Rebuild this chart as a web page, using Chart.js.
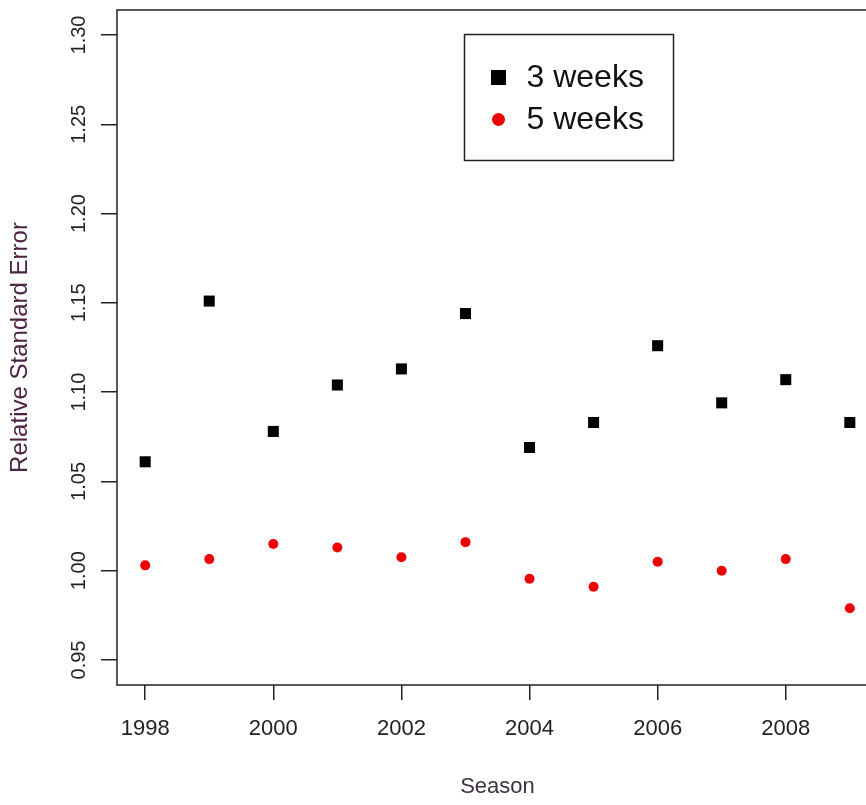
<!DOCTYPE html>
<html>
<head>
<meta charset="utf-8">
<title>Relative Standard Error by Season</title>
<script src="https://cdn.jsdelivr.net/npm/chart.js@4.4.1/dist/chart.umd.min.js"></script>
<style>
    html, body { margin: 0; padding: 0; background: #fff; overflow: hidden; }
    #wrap { width: 866px; height: 805px; overflow: hidden; }
    canvas { display: block; }
</style>
</head>
<body>
<div id="wrap">
    <canvas id="rseChart" width="890" height="805"></canvas>
</div>
<script>
// Chart data
const seasons = [1998, 1999, 2000, 2001, 2002, 2003, 2004, 2005, 2006, 2007, 2008, 2009];
const threeWeeks = [1.061, 1.151, 1.078, 1.104, 1.113, 1.144, 1.069, 1.083, 1.126, 1.094, 1.107, 1.083];
const fiveWeeks = [1.003, 1.0065, 1.015, 1.013, 1.0075, 1.016, 0.9955, 0.991, 1.005, 1.000, 1.0065, 0.979];
const xTicks = [1998, 2000, 2002, 2004, 2006, 2008];
const yTicks = [0.95, 1.00, 1.05, 1.10, 1.15, 1.20, 1.25, 1.30];
const seriesLabels = ['3 weeks', '5 weeks'];

const FONT = "'Liberation Sans', Arial, sans-serif";
const INK = '#222';

// Turn two parallel arrays into scatter points
function toPoints(xs, ys) {
    return xs.map((x, i) => ({ x: x, y: ys[i] }));
}

// Plot frame and the boxed legend (R style)
const framePlugin = {
    id: 'frame',
    afterDraw(chart) {
        const ctx = chart.ctx;
        const a = chart.chartArea;
        const xs = chart.scales.x;
        const ys = chart.scales.y;

        ctx.save();
        ctx.strokeStyle = INK;
        ctx.lineWidth = 1.5;
        ctx.strokeRect(a.left, a.top, a.right - a.left, a.bottom - a.top);

        // legend anchored at (2003, 1.30) like legend(2003, 1.30, ...)
        const lx = Math.round(xs.getPixelForValue(2003)) - 0.5;
        const ly = Math.round(ys.getPixelForValue(1.30)) - 0.5;
        ctx.strokeRect(lx, ly, 209, 126);

        ctx.font = '32px ' + FONT;
        ctx.textBaseline = 'middle';
        ctx.textAlign = 'left';
        chart.data.datasets.forEach((ds, i) => {
            const cy = ly + 43 + i * 42;
            const cx = lx + 34;
            ctx.fillStyle = ds.backgroundColor;
            if (ds.pointStyle === 'rect') {
                ctx.fillRect(cx - 7.5, cy - 7.5, 15, 15);
            } else {
                ctx.beginPath();
                ctx.arc(cx, cy, 6.5, 0, Math.PI * 2);
                ctx.fill();
            }
            ctx.fillStyle = '#111';
            ctx.fillText(ds.label, lx + 62, cy + 1);
        });
        ctx.restore();
    }
};

document.addEventListener('DOMContentLoaded', function() {
    const ctx = document.getElementById('rseChart').getContext('2d');

    new Chart(ctx, {
        type: 'scatter',
        data: {
            datasets: [{
                label: seriesLabels[0],
                data: toPoints(seasons, threeWeeks),
                pointStyle: 'rect',
                pointRadius: 7.8,
                borderWidth: 0,
                backgroundColor: '#000000'
            }, {
                label: seriesLabels[1],
                data: toPoints(seasons, fiveWeeks),
                pointStyle: 'circle',
                pointRadius: 5,
                borderWidth: 0,
                backgroundColor: '#ee0000'
            }]
        },
        options: {
            responsive: false,
            animation: false,
            layout: {
                padding: { left: 0, top: 10, right: 12, bottom: 0 }
            },
            plugins: {
                legend: { display: false },
                tooltip: { enabled: false }
            },
            scales: {
                x: {
                    type: 'linear',
                    min: 1997.56,
                    max: 2009.44,
                    afterBuildTicks: function(scale) {
                        scale.ticks = xTicks.map(v => ({ value: v }));
                    },
                    afterFit: function(scale) {
                        scale.height = 120;
                        scale.paddingLeft = 0;
                        scale.paddingRight = 0;
                    },
                    border: { display: false },
                    grid: {
                        drawOnChartArea: false,
                        drawTicks: true,
                        tickLength: 15,
                        color: INK,
                        lineWidth: 1.5
                    },
                    ticks: {
                        padding: 16,
                        maxRotation: 0,
                        autoSkip: false,
                        color: INK,
                        font: { family: FONT, size: 22 },
                        callback: function(value) { return String(value); }
                    },
                    title: {
                        display: true,
                        text: 'Season',
                        color: '#3b3340',
                        font: { family: FONT, size: 22 },
                        padding: { top: 0, bottom: 5 }
                    }
                },
                y: {
                    type: 'linear',
                    min: 0.936,
                    max: 1.314,
                    afterBuildTicks: function(scale) {
                        scale.ticks = yTicks.map(v => ({ value: v }));
                    },
                    afterFit: function(scale) {
                        scale.width = 117;
                        scale.paddingTop = 0;
                        scale.paddingBottom = 0;
                    },
                    border: { display: false },
                    grid: {
                        drawOnChartArea: false,
                        drawTicks: true,
                        tickLength: 16,
                        color: INK,
                        lineWidth: 1.5
                    },
                    ticks: {
                        padding: 2,
                        minRotation: 90,
                        maxRotation: 90,
                        crossAlign: 'center',
                        autoSkip: false,
                        color: INK,
                        font: { family: FONT, size: 20 },
                        callback: function(value) { return value.toFixed(2); }
                    },
                    title: {
                        display: true,
                        text: 'Relative Standard Error',
                        color: '#4b2345',
                        font: { family: FONT, size: 24 },
                        padding: { top: 6, bottom: 0 }
                    }
                }
            }
        },
        plugins: [framePlugin]
    });
});
</script>
</body>
</html>
